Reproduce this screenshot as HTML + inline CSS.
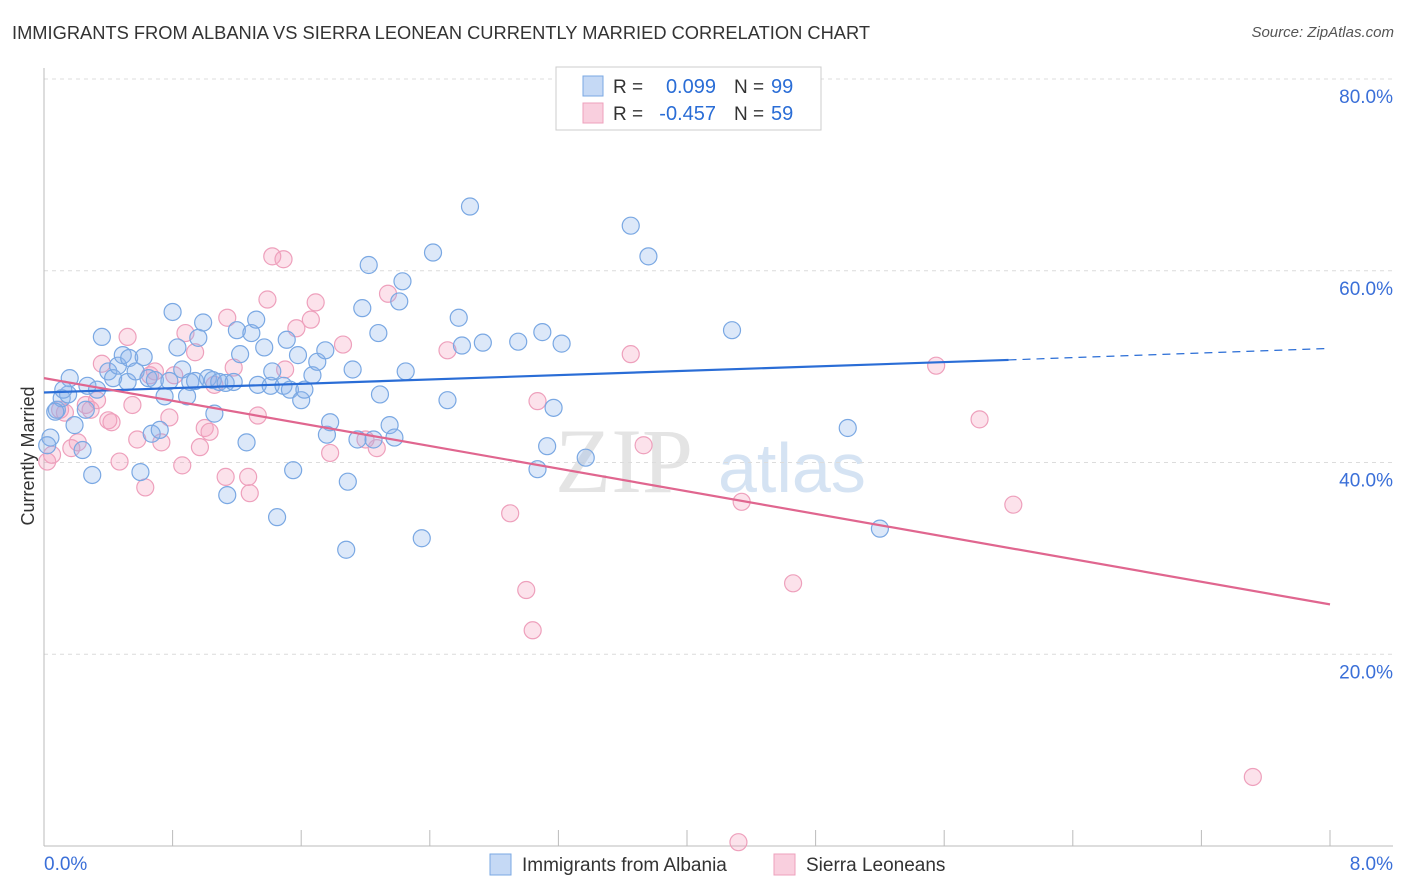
<!DOCTYPE html>
<html><head><meta charset="utf-8">
<style>
body{margin:0;background:#fff;font-family:"Liberation Sans",sans-serif;}
#wrap{position:relative;width:1406px;height:892px;overflow:hidden;}
.title{position:absolute;left:12px;top:22px;font-size:18.3px;color:#333;}
.src{position:absolute;right:12px;top:24px;font-size:15px;color:#555;font-style:italic;}
</style></head><body>
<div id="wrap">
<div class="title">IMMIGRANTS FROM ALBANIA VS SIERRA LEONEAN CURRENTLY MARRIED CORRELATION CHART</div>
<div class="src">Source: ZipAtlas.com</div>
<svg id="chart" width="1406" height="892" style="position:absolute;left:0;top:0"></svg>
</div>
<script>
const blueX=[0.08,0.11,0.16,0.15,0.19,0.24,0.27,0.30,0.33,0.36,0.40,0.43,0.46,0.49,0.52,0.53,0.57,0.60,0.62,0.65,0.67,0.69,0.72,0.75,0.78,0.80,0.83,0.86,0.89,0.91,0.94,0.96,0.99,1.02,1.05,1.06,1.09,1.13,1.14,1.18,1.20,1.22,1.26,1.29,1.32,1.33,1.37,1.41,1.42,1.45,1.49,1.51,1.53,1.55,1.58,1.60,1.62,1.67,1.70,1.75,1.76,1.78,1.88,1.89,1.92,1.95,1.98,2.02,2.05,2.08,2.09,2.15,2.18,2.21,2.23,2.25,2.35,2.42,2.51,2.58,2.60,2.73,2.95,3.07,3.10,3.13,3.17,3.22,3.37,3.65,3.76,4.28,5.00,5.20,2.65,0.04,0.02,0.07,0.12,0.26];
const blueY=[45.5,46.7,48.8,47.1,43.9,41.3,48.0,38.7,47.6,53.1,49.5,48.8,50.1,51.2,48.4,50.9,49.5,39.0,51.0,48.8,43.0,48.6,43.4,46.9,48.5,55.7,52.0,49.7,46.9,48.4,48.5,53.0,54.6,48.8,48.6,45.1,48.4,48.3,36.6,48.4,53.8,51.3,42.1,53.5,54.9,48.1,52.0,48.0,49.5,34.3,48.0,52.8,47.6,39.2,51.2,46.5,47.6,49.1,50.5,51.7,42.9,44.2,30.9,38.0,49.7,42.4,56.1,60.6,42.4,53.5,47.1,43.9,42.6,56.8,58.9,49.5,32.1,61.9,46.5,55.1,52.2,52.5,52.6,39.3,53.6,41.7,45.7,52.4,40.5,64.7,61.5,53.8,43.6,33.1,66.7,42.6,41.8,45.3,47.6,45.5];
const pinkX=[0.02,0.05,0.10,0.13,0.17,0.21,0.26,0.29,0.33,0.36,0.40,0.42,0.47,0.52,0.55,0.58,0.63,0.66,0.69,0.73,0.78,0.81,0.86,0.88,0.94,0.97,1.00,1.03,1.06,1.13,1.14,1.18,1.27,1.28,1.33,1.39,1.42,1.49,1.50,1.57,1.66,1.69,1.78,1.86,2.00,2.07,2.14,2.51,2.90,3.00,3.04,3.07,3.73,3.65,4.34,4.66,5.55,5.82,6.03,7.52,4.32];
const pinkY=[40.1,40.8,45.5,45.2,41.5,42.1,46.0,45.5,46.5,50.3,44.4,44.2,40.1,53.1,46.0,42.4,37.4,49.1,49.5,42.1,44.7,49.1,39.7,53.5,51.5,41.6,43.6,43.2,48.1,38.5,55.1,49.9,38.5,36.8,44.9,57.0,61.5,61.2,49.7,54.0,54.9,56.7,41.0,52.3,42.4,41.5,57.6,51.7,34.7,26.7,22.5,46.4,41.8,51.3,35.9,27.4,50.1,44.5,35.6,7.2,0.4];
const blueTrend=[[0,47.3],[6.0,50.7],[8,51.9]];
const pinkTrend=[[0,48.8],[8,25.2]];
const yTicks=[20,40,60,80];
const xTickLabels=["0.0%","8.0%"];
const legendR=["0.099","-0.457"], legendN=["99","59"];

const NS="http://www.w3.org/2000/svg";
const svg=document.getElementById('chart');
const X0=44,X1=1330,Y0=846,Y80=79;
const sx=v=>X0+(v/8)*(X1-X0);
const sy=v=>Y0-(v/80)*(Y0-Y80);
function mk(tag,attrs,parent){const e=document.createElementNS(NS,tag);for(const k in attrs)e.setAttribute(k,attrs[k]);(parent||svg).appendChild(e);return e;}

let wm=mk('text',{x:555,y:492,'font-size':92,fill:'#e4e4e4','font-family':'Liberation Serif'});wm.textContent='ZIP';


let wm2=mk('text',{x:718,y:492,'font-size':70,fill:'#d5e3f3','font-family':'Liberation Sans'});wm2.textContent='atlas';



yTicks.forEach(t=>{
 let g=mk('line',{x1:X0,x2:1393,y1:sy(t),y2:sy(t),stroke:'#dcdcdc','stroke-dasharray':'4,4'});
 
 
 let l=mk('text',{x:1393,y:sy(t)+24,'text-anchor':'end','font-size':19,fill:'#3a6fd8'});l.textContent=t.toFixed(1)+'%';
 
 
});
let ax=mk('line',{x1:X0,x2:1393,y1:Y0,y2:Y0,stroke:'#bbb'});


let ay=mk('line',{x1:X0,x2:X0,y1:68,y2:Y0,stroke:'#bbb'});


for(let i=0;i<=10;i++){let t=mk('line',{x1:sx(i*0.8),x2:sx(i*0.8),y1:830,y2:Y0,stroke:'#bbb'});
 
 }
let xl0=mk('text',{x:44,y:870,'font-size':19,fill:'#3a6fd8'});xl0.textContent=xTickLabels[0];


let xl1=mk('text',{x:1393,y:870,'text-anchor':'end','font-size':19,fill:'#3a6fd8'});xl1.textContent=xTickLabels[1];


let yt=mk('text',{x:34,y:456,'font-size':18,fill:'#333','text-anchor':'middle',transform:'rotate(-90 34 456)'});yt.textContent='Currently Married';



function pts(xs,ys,fill,stroke,name){xs.forEach((v,i)=>{
 let c=mk('circle',{cx:sx(v),cy:sy(ys[i]),r:8.5,fill:fill,stroke:stroke,'stroke-width':1.2});
 
 
});}
pts(pinkX,pinkY,'rgba(244,160,190,0.3)','#eea0bc','point-sierra-leonean');
pts(blueX,blueY,'rgba(140,180,235,0.3)','#7aa8e3','point-albania');

let bl=mk('line',{x1:sx(blueTrend[0][0]),y1:sy(blueTrend[0][1]),x2:sx(blueTrend[1][0]),y2:sy(blueTrend[1][1]),stroke:'#2a6dd6','stroke-width':2.2});


let bd=mk('line',{x1:sx(blueTrend[1][0]),y1:sy(blueTrend[1][1]),x2:sx(blueTrend[2][0]),y2:sy(blueTrend[2][1]),stroke:'#2a6dd6','stroke-width':1.2,'stroke-dasharray':'8,6'});


let pl=mk('line',{x1:sx(pinkTrend[0][0]),y1:sy(pinkTrend[0][1]),x2:sx(pinkTrend[1][0]),y2:sy(pinkTrend[1][1]),stroke:'#e0668f','stroke-width':2.2});



let lb=mk('rect',{x:556,y:67,width:265,height:63,fill:'#fff',stroke:'#ccc'});


[['rgba(140,180,235,0.5)','#7aa8e3'],['rgba(244,160,190,0.5)','#eea0bc']].forEach((c,i)=>{
 let y=86+i*27;
 let s=mk('rect',{x:583,y:y-10,width:20,height:20,fill:c[0],stroke:c[1]});
 
 
 let t1=mk('text',{x:613,y:y+7,'font-size':19,fill:'#333'});t1.textContent='R =';
 
 
 let t2=mk('text',{x:716,y:y+7,'font-size':20,fill:'#2a6dd6','text-anchor':'end'});t2.textContent=legendR[i];
 
 
 let t3=mk('text',{x:734,y:y+7,'font-size':19,fill:'#333'});t3.textContent='N =';
 
 
 let t4=mk('text',{x:771,y:y+7,'font-size':20,fill:'#2a6dd6'});t4.textContent=legendN[i];
 
 
});
[['Immigrants from Albania',490,'rgba(140,180,235,0.5)','#7aa8e3'],['Sierra Leoneans',774,'rgba(244,160,190,0.5)','#eea0bc']].forEach((d,i)=>{
 let s=mk('rect',{x:d[1],y:854,width:21,height:21,fill:d[2],stroke:d[3]});
 
 
 let t=mk('text',{x:d[1]+32,y:871,'font-size':19,fill:'#333'});t.textContent=d[0];
 
 
});
</script>
</body></html>
